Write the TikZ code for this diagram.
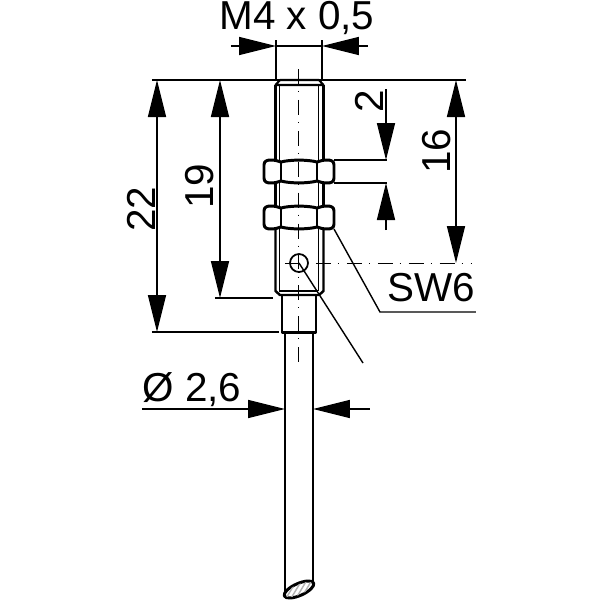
\documentclass[tikz,border=0pt]{standalone}
\usepackage{fontspec}
\setmainfont{Liberation Sans}
\usetikzlibrary{arrows.meta}
\tikzset{
    part/.style={line width=1.7pt, line join=round},
    thread/.style={line width=1.4pt, line join=round},
    thin part/.style={line width=0.7pt},
    dim/.style={line width=0.8pt},
    dim arrow/.style={line width=0.8pt, -{Triangle[length=0.74cm, width=0.36cm]}},
    center line/.style={line width=0.5pt, dash pattern=on 8.5pt off 4pt on 0.5pt off 4.6pt},
    dim label/.style={inner sep=0pt, font=\fontsize{23}{23}\selectfont}
}

\begin{document}
\begin{tikzpicture}[x=0.02cm, y=-0.02cm]
    \useasboundingbox (0,0) rectangle (600,600);
    % thread
    \draw[thread] (275.5,85) -- (275.5,160) (323.5,85) -- (323.5,160);
    \draw[thread] (275.5,183) -- (275.5,206) (323.5,183) -- (323.5,206);
    \draw[thread] (275.5,229) -- (275.5,291) -- (280,295) -- (319,295) -- (323.5,291) -- (323.5,229);
    \draw[thread, line width=1.2pt] (275.5,85) -- (280,80) -- (319,80) -- (323.5,85) -- cycle;
    \draw[thin part] (279.5,85) -- (279.5,160) (318.5,85) -- (318.5,160);
    \draw[thin part] (279.5,183) -- (279.5,206) (318.5,183) -- (318.5,206);
    \draw[thin part] (279.5,229) -- (279.5,291) (318.5,229) -- (318.5,291) (279.5,291) -- (318.5,291);
    % nuts
    \foreach \ytop in {160,206} {
        \begin{scope}[shift={(0,\ytop)}]
            \draw[part, fill=white] (264,5) .. controls (264,1) and (267,0) .. (271,0)
                .. controls (275,0) and (278,1) .. (281,2)
                .. controls (290,-0.5) and (308,-0.5) .. (317,2)
                .. controls (320,1) and (323,0) .. (327,0)
                .. controls (331,0) and (334,1) .. (334,5) -- (334,18)
                .. controls (334,22) and (331,23) .. (327,23)
                .. controls (323,23) and (320,22) .. (317,21)
                .. controls (308,23.5) and (290,23.5) .. (281,21)
                .. controls (278,22) and (275,23) .. (271,23)
                .. controls (267,23) and (264,22) .. (264,18) -- cycle;
            \draw[line width=1.1pt] (281,2) -- (281,21) (317,2) -- (317,21);
        \end{scope}
    }
    % neck and cable
    \draw[part] (282,295) -- (282,332) -- (316,332) -- (316,295);
    \draw[part] (285,332) -- (285,592) (313,332) -- (313,584);
    \draw[part, fill=white, rotate around={24:(299,589.5)}] (299,589.5) ellipse (16 and 6);
    \begin{scope}
        \clip[rotate around={24:(299,589.5)}] (299,589.5) ellipse (15 and 5);
        \foreach \xs in {280,285,...,320} {
            \draw[line width=0.8pt, gray!60] (\xs,600) -- (\xs+12,580);
        }
    \end{scope}
    % center lines
    \draw[center line] (298,69) -- (298,367);
    \draw[center line] (285,263) -- (472,263);
    % hole
    \draw[line width=1pt] (299,263) circle (9);
    % dimension: M4 x 0,5
    \draw[dim] (276,40) -- (276,80) (322,40) -- (322,80);
    \draw[dim arrow] (231,46) -- (276,46);
    \draw[dim arrow] (368,46) -- (322,46);
    \draw[dim] (276,46) -- (322,46);
    \node[dim label] (labelthread) at (297,18) {M4 x 0,5};
    % dimensions from the top line
    \draw[dim] (152,80) -- (466,80);
    \draw[dim] (152,332) -- (279,332);
    \draw[dim] (215,298) -- (273,298);
    \draw[dim arrow] (157,206) -- (157,80);
    \draw[dim arrow] (157,206) -- (157,332);
    \draw[dim arrow] (220,190) -- (220,80);
    \draw[dim arrow] (220,190) -- (220,298);
    \draw[dim arrow] (456,170) -- (456,80);
    \draw[dim arrow] (456,170) -- (456,263);
    \node[dim label, rotate=90] (labeltotal) at (141,209) {22};
    \node[dim label, rotate=90] (labelbody) at (200,186) {19};
    \node[dim label, rotate=90] (labelhole) at (437,151) {16};
    % dimension: nut width
    \draw[dim] (334,160) -- (387,160) (334,183) -- (387,183);
    \draw[dim arrow] (386,89) -- (386,160);
    \draw[dim arrow] (386,230) -- (386,183);
    \node[dim label, rotate=90] (labelnut) at (369,101) {2};
    % wrench size
    \draw[dim] (334,229) -- (380,312) -- (476,312);
    \node[dim label] (labelwrench) at (431,288) {SW6};
    % leader from hole
    \draw[dim] (299,263) -- (363,363);
    % dimension: cable
    \draw[dim arrow] (142,409) -- (285,409);
    \draw[dim arrow] (370,409) -- (313,409);
    \node[dim label] (labelcable) at (192,390) {Ø 2,6};
\end{tikzpicture}
\end{document}
